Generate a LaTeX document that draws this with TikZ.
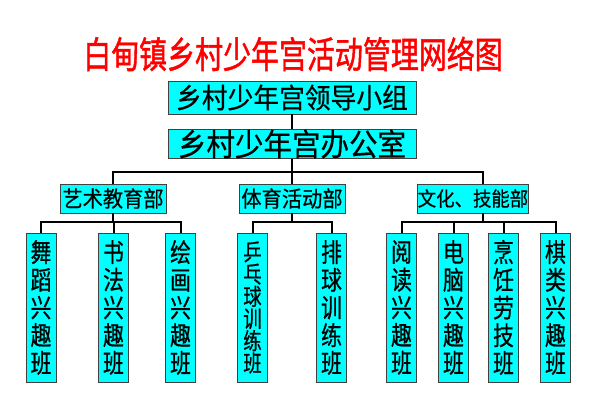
\documentclass[tikz,border=0pt]{standalone}
\usepackage{fontspec}
\setmainfont{Noto Sans CJK SC}
\newfontfamily\titlefont[FakeStretch=0.76,FakeBold=1.2]{Noto Sans CJK SC}
\newfontfamily\boxfont[FakeStretch=0.92,FakeBold=0.4]{Noto Sans CJK SC}
\newfontfamily\narrowfont[FakeStretch=0.8,FakeBold=0.6]{Noto Sans CJK SC}
\definecolor{box_fill}{HTML}{00FFFF}
\definecolor{title_red}{HTML}{FF0000}

\begin{document}
\begin{tikzpicture}[
    x=1pt, y=-1pt,
    box_style/.style={draw=black!75, fill=box_fill, line width=0.8pt, inner sep=0pt},
    head_box_style/.style={box_style, minimum width=248pt, font=\boxfont\fontsize{28}{30}\selectfont},
    dept_box_style/.style={box_style, minimum width=106pt, minimum height=29pt, font=\boxfont\fontsize{22}{24}\selectfont},
    class_box_style/.style={box_style, minimum width=30pt, minimum height=149pt, align=center, font=\narrowfont\fontsize{26}{27.7}\selectfont},
    link_style/.style={line width=2pt}
]
\useasboundingbox (0,0) rectangle (600,407);
\fill[white] (0,0) rectangle (600,407);

% Title
\node[text=title_red, font=\titlefont\fontsize{36.8}{38}\selectfont] (title) at (293,54) {白甸镇乡村少年宫活动管理网络图};

% Top boxes
\node[head_box_style, minimum height=33pt] (lead) at (292,97.5) {乡村少年宫领导小组};
\node[head_box_style, minimum height=28pt, font=\boxfont\fontsize{31}{30}\selectfont] (office) at (292,144) {乡村少年宫办公室};

% Departments
\node[dept_box_style] (art) at (113,198.5) {艺术教育部};
\node[dept_box_style] (sport) at (292,198.5) {体育活动部};
\node[dept_box_style, minimum width=110pt, font=\boxfont\fontsize{20}{22}\selectfont] (culture) at (473,198.5) {文化、技能部};
\coordinate (culture_top) at ([xshift=10pt]culture.north);
\coordinate (culture_bottom) at ([xshift=10pt]culture.south);

% Classes
\node[class_box_style] (c1) at (41,307.5) {舞\\蹈\\兴\\趣\\班};
\node[class_box_style] (c2) at (113.5,307.5) {书\\法\\兴\\趣\\班};
\node[class_box_style] (c3) at (180.5,307.5) {绘\\画\\兴\\趣\\班};
\node[class_box_style, font=\narrowfont\fontsize{23}{22.2}\selectfont] (s1) at (252.5,307.5) {乒\\乓\\球\\训\\练\\班};
\node[class_box_style] (s2) at (331.5,307.5) {排\\球\\训\\练\\班};
\node[class_box_style] (w1) at (401.5,307.5) {阅\\读\\兴\\趣\\班};
\node[class_box_style] (w2) at (453.5,307.5) {电\\脑\\兴\\趣\\班};
\node[class_box_style] (w3) at (503.5,307.5) {烹\\饪\\劳\\技\\班};
\node[class_box_style] (w4) at (555.5,307.5) {棋\\类\\兴\\趣\\班};

% Links
\draw[link_style] (lead) -- (office);
\foreach \v in {art.north,sport.north,culture_top}
    \draw[link_style] (office.south) -- ++(0,13) -| (\v);
\foreach \u/\v in {art/c1,art/c2,art/c3,sport/s1,sport/s2}
    \draw[link_style] (\u.south) -- ++(0,9) -| (\v.north);
\foreach \v in {w1,w2,w3,w4}
    \draw[link_style] (culture_bottom) -- ++(0,9) -| (\v.north);

\end{tikzpicture}
\end{document}
